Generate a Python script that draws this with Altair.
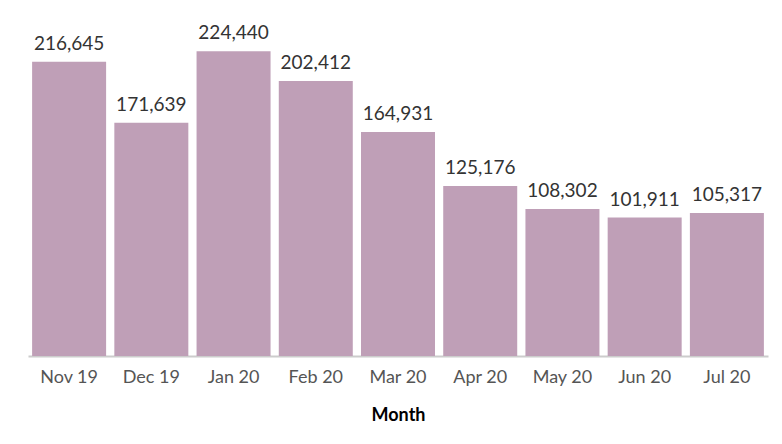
import altair as alt
import pandas as pd

months = ["Nov 19", "Dec 19", "Jan 20", "Feb 20", "Mar 20", "Apr 20", "May 20", "Jun 20", "Jul 20"]
values = [216645, 171639, 224440, 202412, 164931, 125176, 108302, 101911, 105317]

df = pd.DataFrame({"Month": months, "Value": values})

base = alt.Chart(df).encode(
    x=alt.X("Month:N", sort=months, scale=alt.Scale(paddingInner=0.1, paddingOuter=0.05),
            axis=alt.Axis(title="Month", labelAngle=0, labelFont="Lato", labelFontSize=18,
                          labelColor="#555555", labelPadding=12, ticks=False,
                          domainColor="#cccccc", domainWidth=2,
                          titleFont="Lato", titleFontSize=18, titleFontWeight="bold",
                          titleColor="#000000", titlePadding=20)),
    y=alt.Y("Value:Q", scale=alt.Scale(domain=[0, 240000], nice=False), axis=None),
)

bars = base.mark_bar(color="#bf9fb7")
labels = base.mark_text(baseline="bottom", dy=-8, font="Lato", fontSize=19, color="#333333").encode(
    text=alt.Text("Value:Q", format=",")
)

chart = (bars + labels).properties(
    width=740, height=326,
    background="white",
    autosize=alt.AutoSizeParams(type="none"),
    padding={"left": 28, "top": 30, "right": 14, "bottom": 88},
).configure_view(strokeWidth=0, stroke=None)

chart.save("out.html", embed_options={"renderer": "svg", "actions": False})
